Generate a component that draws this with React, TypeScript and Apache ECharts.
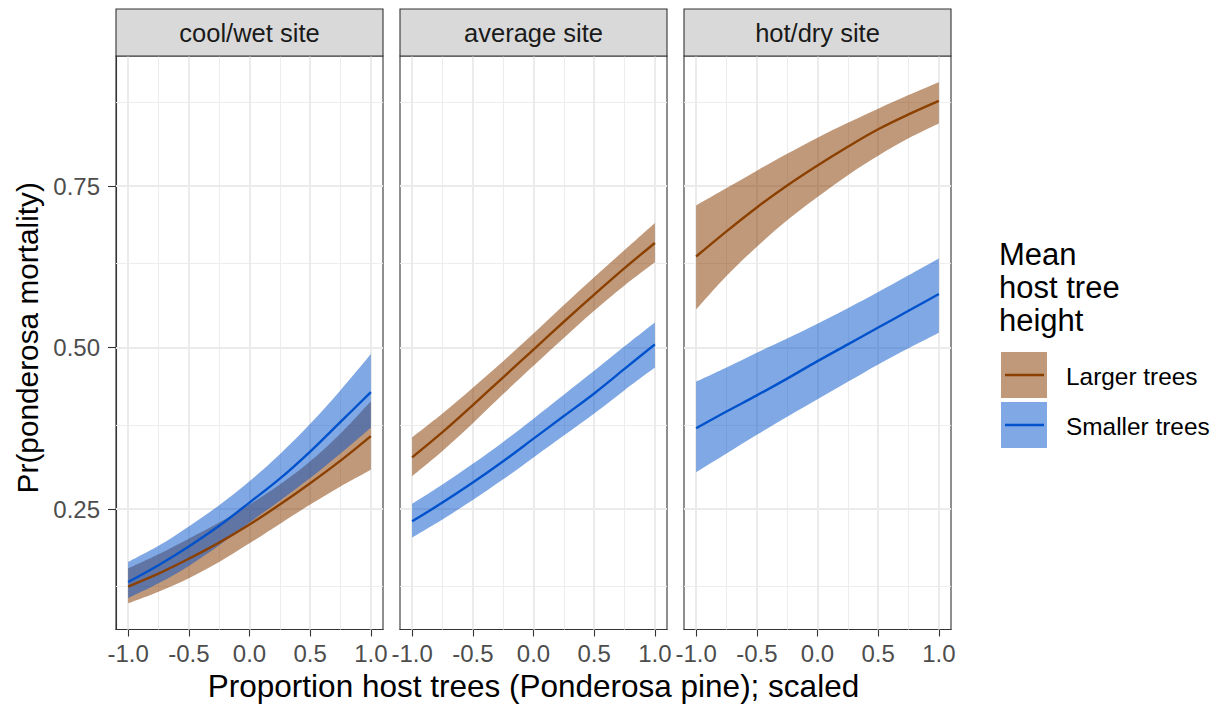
import React, { useEffect, useRef } from "react";
import * as echarts from "echarts";

// ---------- data ----------
const xValues = [-1, -0.75, -0.5, -0.25, 0, 0.25, 0.5, 0.75, 1];
const panelTitles = ["cool/wet site", "average site", "hot/dry site"];
const groupNames = ["Larger trees", "Smaller trees"];
const xTickValues = [-1, -0.5, 0, 0.5, 1];
const yTickValues = [0.25, 0.5, 0.75];
const xMinorGrid = [-0.75, -0.25, 0.25, 0.75];
const yMinorGrid = [0.125, 0.375, 0.625, 0.875];

// cool/wet site
const coolLargerFit = [0.130, 0.150, 0.173, 0.198, 0.226, 0.257, 0.290, 0.325, 0.363];
const coolLargerLo = [0.104, 0.122, 0.143, 0.168, 0.197, 0.227, 0.257, 0.285, 0.311];
const coolLargerHi = [0.158, 0.180, 0.204, 0.229, 0.257, 0.288, 0.324, 0.367, 0.417];
const coolSmallerFit = [0.137, 0.163, 0.192, 0.224, 0.260, 0.297, 0.339, 0.385, 0.431];
const coolSmallerLo = [0.112, 0.135, 0.162, 0.194, 0.229, 0.263, 0.298, 0.336, 0.376];
const coolSmallerHi = [0.168, 0.193, 0.223, 0.256, 0.293, 0.335, 0.382, 0.434, 0.490];

// average site
const avgLargerFit = [0.330, 0.369, 0.411, 0.454, 0.497, 0.540, 0.582, 0.623, 0.662];
const avgLargerLo = [0.301, 0.340, 0.383, 0.428, 0.472, 0.515, 0.557, 0.596, 0.632];
const avgLargerHi = [0.361, 0.398, 0.438, 0.479, 0.522, 0.566, 0.609, 0.651, 0.693];
const avgSmallerFit = [0.231, 0.260, 0.291, 0.324, 0.359, 0.394, 0.429, 0.467, 0.505];
const avgSmallerLo = [0.206, 0.234, 0.264, 0.296, 0.330, 0.364, 0.398, 0.434, 0.469];
const avgSmallerHi = [0.258, 0.288, 0.320, 0.354, 0.390, 0.427, 0.464, 0.502, 0.539];

// hot/dry site
const hotLargerFit = [0.641, 0.680, 0.717, 0.751, 0.782, 0.811, 0.838, 0.861, 0.882];
const hotLargerLo = [0.559, 0.611, 0.656, 0.697, 0.733, 0.767, 0.797, 0.824, 0.847];
const hotLargerHi = [0.720, 0.747, 0.774, 0.800, 0.825, 0.848, 0.870, 0.891, 0.911];
const hotSmallerFit = [0.375, 0.401, 0.426, 0.452, 0.479, 0.505, 0.531, 0.557, 0.583];
const hotSmallerLo = [0.307, 0.336, 0.365, 0.393, 0.420, 0.447, 0.474, 0.499, 0.523];
const hotSmallerHi = [0.447, 0.469, 0.492, 0.514, 0.537, 0.561, 0.586, 0.612, 0.638];

const panelData = [
  [
    { fit: coolLargerFit, lo: coolLargerLo, hi: coolLargerHi },
    { fit: coolSmallerFit, lo: coolSmallerLo, hi: coolSmallerHi },
  ],
  [
    { fit: avgLargerFit, lo: avgLargerLo, hi: avgLargerHi },
    { fit: avgSmallerFit, lo: avgSmallerLo, hi: avgSmallerHi },
  ],
  [
    { fit: hotLargerFit, lo: hotLargerLo, hi: hotLargerHi },
    { fit: hotSmallerFit, lo: hotSmallerLo, hi: hotSmallerHi },
  ],
];

// ---------- style ----------
const FONT = "'Liberation Sans', Arial, Helvetica, sans-serif";
const lineColors = ["#8B4000", "#0052CC"];
const fillColors = ["rgba(135,60,0,0.52)", "rgba(0,82,204,0.5)"];
const PANEL_LEFT = [116, 400, 684];
const PANEL_W = 267;
const PANEL_TOP = 56;
const PANEL_H = 573.5;
const STRIP_TOP = 9;
const Y_MIN = 0.0635;
const Y_MAX = 0.9515;
const X_MIN = -1.1;
const X_MAX = 1.1;
const SMOOTH = 0.35;

// bezier segments through pixel points (rendering only)
function bezierSegments(pts: number[][], s: number): string {
  const n = pts.length;
  const before: number[][] = [];
  const after: number[][] = [];
  for (let i = 0; i < n; i++) {
    if (i === 0 || i === n - 1) {
      before[i] = pts[i];
      after[i] = pts[i];
      continue;
    }
    const prev = pts[i - 1];
    const cur = pts[i];
    const next = pts[i + 1];
    const vx = next[0] - prev[0];
    const vy = next[1] - prev[1];
    const dp = Math.hypot(cur[0] - prev[0], cur[1] - prev[1]);
    const dn = Math.hypot(next[0] - cur[0], next[1] - cur[1]);
    const r = dp / (dp + dn || 1);
    before[i] = [cur[0] - vx * s * r, cur[1] - vy * s * r];
    after[i] = [cur[0] + vx * s * (1 - r), cur[1] + vy * s * (1 - r)];
  }
  let d = "";
  for (let i = 0; i < n - 1; i++) {
    d += ` C ${after[i][0]} ${after[i][1]} ${before[i + 1][0]} ${before[i + 1][1]} ${pts[i + 1][0]} ${pts[i + 1][1]}`;
  }
  return d;
}

export default function App() {
  const ref = useRef<HTMLDivElement>(null);

  useEffect(() => {
    if (!ref.current) return;
    const chart = echarts.init(ref.current, null, { renderer: "svg" });

    const grid: any[] = [];
    const xAxis: any[] = [];
    const yAxis: any[] = [];
    const series: any[] = [];
    const graphic: any[] = [];

    for (let p = 0; p < 3; p++) {
      grid.push({
        left: PANEL_LEFT[p],
        top: PANEL_TOP,
        width: PANEL_W,
        height: PANEL_H,
        show: true,
        backgroundColor: "#ffffff",
        borderColor: "#333333",
        borderWidth: 1.1,
        containLabel: false,
      });
      xAxis.push({
        type: "value",
        gridIndex: p,
        min: X_MIN,
        max: X_MAX,
        splitLine: { show: false },
        axisLine: { show: true, onZero: false, lineStyle: { color: "#333333", width: 1.1 } },
        axisTick: {
          show: true,
          length: 7,
          customValues: xTickValues,
          lineStyle: { color: "#333333", width: 1.1 },
        },
        axisLabel: {
          show: true,
          customValues: xTickValues,
          formatter: (v: number) => v.toFixed(1),
          color: "#4D4D4D",
          fontSize: 24,
          fontFamily: FONT,
          margin: 12,
        },
      });
      yAxis.push({
        type: "value",
        gridIndex: p,
        min: Y_MIN,
        max: Y_MAX,
        splitLine: { show: false },
        axisLine: { show: p === 0, onZero: false, lineStyle: { color: "#333333", width: 1.1 } },
        axisTick: {
          show: p === 0,
          length: 8,
          customValues: yTickValues,
          lineStyle: { color: "#333333", width: 1.1 },
        },
        axisLabel: {
          show: p === 0,
          customValues: yTickValues,
          formatter: (v: number) => v.toFixed(2),
          color: "#4D4D4D",
          fontSize: 24,
          fontFamily: FONT,
          margin: 16,
        },
      });

      // gridlines (major and minor) through markLine on an empty series
      const gl: any[] = [];
      yMinorGrid.forEach((v) => gl.push({ yAxis: v, lineStyle: { color: "#EDEDED", width: 1.1, type: "solid" } }));
      xMinorGrid.forEach((v) => gl.push({ xAxis: v, lineStyle: { color: "#EDEDED", width: 1.1, type: "solid" } }));
      yTickValues.forEach((v) => gl.push({ yAxis: v, lineStyle: { color: "#EBEBEB", width: 2, type: "solid" } }));
      xTickValues.forEach((v) => gl.push({ xAxis: v, lineStyle: { color: "#EBEBEB", width: 2, type: "solid" } }));
      series.push({
        type: "line",
        xAxisIndex: p,
        yAxisIndex: p,
        data: [],
        z: 1,
        silent: true,
        markLine: {
          silent: true,
          z: 1,
          symbol: "none",
          animation: false,
          label: { show: false },
          emphasis: { disabled: true },
          data: gl,
        },
      });

      // ribbons: larger first, smaller on top
      for (let g = 0; g < 2; g++) {
        const d = panelData[p][g];
        series.push({
          type: "custom",
          name: groupNames[g],
          xAxisIndex: p,
          yAxisIndex: p,
          z: 2,
          silent: true,
          encode: { x: 0, y: [1, 2] },
          data: xValues.map((x, i) => [x, d.lo[i], d.hi[i]]),
          renderItem: (params: any, api: any) => {
            if (params.dataIndex !== 0) return null;
            const upper = xValues.map((x, i) => api.coord([x, d.hi[i]]));
            const lower = xValues.map((x, i) => api.coord([x, d.lo[i]])).reverse();
            const pathData =
              `M ${upper[0][0]} ${upper[0][1]}` +
              bezierSegments(upper, SMOOTH) +
              ` L ${lower[0][0]} ${lower[0][1]}` +
              bezierSegments(lower, SMOOTH) +
              " Z";
            return {
              type: "path",
              shape: { pathData },
              style: { fill: fillColors[g] },
            };
          },
        });
      }
      // fitted lines
      for (let g = 0; g < 2; g++) {
        const d = panelData[p][g];
        series.push({
          type: "line",
          name: groupNames[g],
          xAxisIndex: p,
          yAxisIndex: p,
          z: 3,
          symbol: "none",
          silent: true,
          smooth: SMOOTH,
          data: xValues.map((x, i) => [x, d.fit[i]]),
          lineStyle: { color: lineColors[g], width: 2.4 },
        });
      }

      // strip
      graphic.push({
        type: "rect",
        shape: { x: PANEL_LEFT[p], y: STRIP_TOP, width: PANEL_W, height: PANEL_TOP - STRIP_TOP },
        style: { fill: "#D9D9D9", stroke: "#333333", lineWidth: 1.1 },
        z: 10,
      });
      graphic.push({
        type: "text",
        x: PANEL_LEFT[p] + PANEL_W / 2,
        y: (STRIP_TOP + PANEL_TOP) / 2 + 0.5,
        style: {
          text: panelTitles[p],
          fill: "#1A1A1A",
          font: `25.5px ${FONT}`,
          align: "center",
          verticalAlign: "middle",
        },
        z: 11,
      });
    }

    // axis titles
    graphic.push({
      type: "text",
      x: (PANEL_LEFT[0] + PANEL_LEFT[2] + PANEL_W) / 2,
      y: 686,
      style: {
        text: "Proportion host trees (Ponderosa pine); scaled",
        fill: "#000000",
        font: `31.5px ${FONT}`,
        align: "center",
        verticalAlign: "middle",
      },
    });
    graphic.push({
      type: "text",
      x: 27,
      y: PANEL_TOP + PANEL_H / 2 - 5,
      rotation: Math.PI / 2,
      style: {
        text: "Pr(ponderosa mortality)",
        fill: "#000000",
        font: `29.8px ${FONT}`,
        align: "center",
        verticalAlign: "middle",
      },
    });

    // legend
    const titleLines = ["Mean", "host tree", "height"];
    const titleMid = [254, 287, 320];
    titleLines.forEach((t, i) =>
      graphic.push({
        type: "text",
        x: 999,
        y: titleMid[i],
        style: { text: t, fill: "#000000", font: `31px ${FONT}`, align: "left", verticalAlign: "middle" },
      })
    );
    const keyTop = [352, 402];
    for (let g = 0; g < 2; g++) {
      graphic.push({
        type: "rect",
        shape: { x: 1001, y: keyTop[g], width: 46, height: 46 },
        style: { fill: fillColors[g] },
      });
      graphic.push({
        type: "line",
        shape: { x1: 1005, y1: keyTop[g] + 23, x2: 1044, y2: keyTop[g] + 23 },
        style: { stroke: lineColors[g], lineWidth: 2.4 },
      });
      graphic.push({
        type: "text",
        x: 1066,
        y: keyTop[g] + 24,
        style: { text: groupNames[g], fill: "#000000", font: `24.4px ${FONT}`, align: "left", verticalAlign: "middle" },
      });
    }

    chart.setOption({
      animation: false,
      backgroundColor: "#ffffff",
      textStyle: { fontFamily: FONT },
      grid,
      xAxis,
      yAxis,
      series,
      graphic,
    });

    return () => chart.dispose();
  }, []);

  return (
    <div
      ref={ref}
      style={{ position: "fixed", left: 0, top: 0, width: 1224, height: 709, background: "#fff" }}
    />
  );
}
